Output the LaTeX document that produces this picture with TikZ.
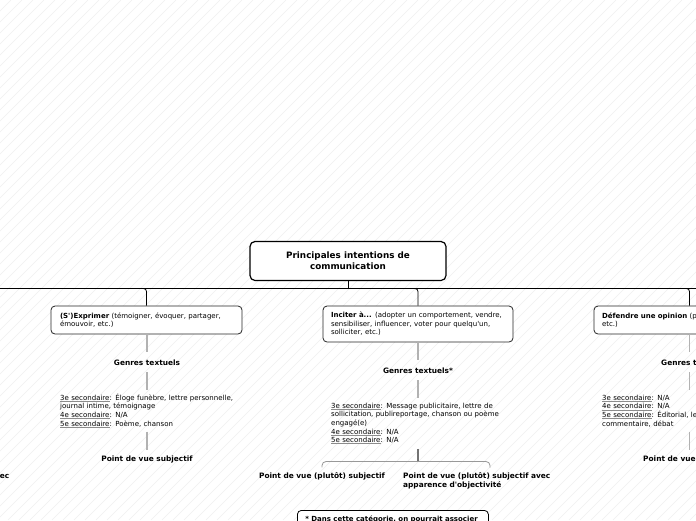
\documentclass[tikz,border=0pt]{standalone}
\usepackage{fontspec}
\setmainfont{DejaVu Sans}
\newcommand\sq{\textquotesingle}
\newcommand\bodyfont{\fontsize{7}{8.6}\selectfont\lineskiplimit=-6pt}
\newcommand\boldfont{\fontsize{7.4}{8.8}\selectfont\lineskiplimit=-6pt\bfseries}
\newcommand\ul[1]{\leavevmode\begingroup\setbox0\hbox{#1}\rlap{\color{black!45}\rule[-1.3pt]{\wd0}{0.6pt}}\box0\endgroup}
\begin{document}
\begin{tikzpicture}[x=1pt,y=-1pt,
  hatch/.style={draw=black!6, line width=0.6pt},
  conn/.style={draw=black, line width=0.8pt},
  gline/.style={draw=black!30, line width=1.6pt},
  dline/.style={draw=black!55, line width=1.6pt},
  bline/.style={draw=black!40, line width=0.8pt, rounded corners=4pt},
  rootbox/.style={draw=black, line width=1.2pt, rounded corners=5pt, fill=white,
    minimum width=196pt, minimum height=39pt, inner sep=0pt, align=center,
    font=\fontsize{8.8}{11}\selectfont\bfseries},
  ibox/.style={draw=black!85, line width=0.8pt, rounded corners=4pt, fill=white,
    inner xsep=8pt, inner ysep=0pt, align=left, font=\bodyfont},
  lbl/.style={font=\boldfont, text height=5.4pt, text depth=0pt,
    inner xsep=0pt, inner ysep=7pt, anchor=base},
  blk/.style={font=\bodyfont, inner sep=0pt, align=left, anchor=north west, text width=190pt},
]
\fill[white] (0,0) rectangle (696,520);
\useasboundingbox (0,0) rectangle (696,520);
\clip (0,0) rectangle (696,520);
\foreach \k in {-520,-509,...,700} \draw[hatch] (\k,520) -- (\k+520,0);

% root
\node[rootbox] (root) at (348,261) {Principales intentions de\\communication};
\coordinate (busL) at (0,288.5);
\coordinate (busR) at (696,288.5);
\draw[conn] (busL) -- (busR);
\draw[conn] (root.south) -- (root.south |- busL);

% children boxes
\node[ibox, inner xsep=9pt, minimum width=191pt, minimum height=28pt, text width=173pt] (lbox) at (146.5,320)
  {\textbf{(S\sq)Exprimer} (témoigner, évoquer, partager,\\émouvoir, etc.)};
\node[ibox, minimum width=190pt, minimum height=36pt, text width=174pt] (mbox) at (418,324)
  {\textbf{Inciter à...} (adopter un comportement, vendre,\\sensibiliser, influencer, voter pour quelqu\sq un,\\solliciter, etc.)};
\node[ibox, minimum width=191pt, minimum height=28pt, text width=175pt] (rbox) at (689.5,320)
  {\textbf{Défendre une opinion} (p\\etc.)};

\draw[conn, rounded corners=3pt] (lbox.north) -- (lbox.north |- busL) -- ++(-8,0);
\draw[conn, rounded corners=3pt] (mbox.north) -- (mbox.north |- busL) -- ++(-8,0);
\draw[conn, rounded corners=3pt] (rbox.north) -- (rbox.north |- busL) -- ++(-8,0);

% left column
\node[lbl] (lgen) at (147,365) {Genres textuels};
\node[blk] (lblk) at (60,390) {\rule{0pt}{10pt}\ul{3e secondaire}: Éloge funèbre, lettre personnelle,\\journal intime, témoignage\\\ul{4e secondaire}: N/A\\\ul{5e secondaire}: Poème, chanson\rule[-5.5pt]{0pt}{5.5pt}};
\node[lbl, inner ysep=5pt] (lpv) at (147,461) {Point de vue subjectif};
\draw[gline] (lgen |- lbox.south) -- (lgen.north);
\draw[gline] (lgen.south) -- (lgen.south |- lblk.north);
\draw[gline] (lpv |- lblk.south) -- (lpv.north);

% middle column
\node[lbl] (mgen) at (418,373) {Genres textuels*};
\node[blk] (mblk) at (331,398) {\rule{0pt}{10pt}\ul{3e secondaire}: Message publicitaire, lettre de\\sollicitation, publireportage, chanson ou poème\\engagé(e)\\\ul{4e secondaire}: N/A\\\ul{5e secondaire}: N/A\rule[-6pt]{0pt}{6pt}};
\draw[gline] (mgen |- mbox.south) -- (mgen.north);
\draw[gline] (mgen.south) -- (mgen.south |- mblk.north);
\coordinate (mbrace) at (418,461.5);
\coordinate (brR) at (490,467.5);
\draw[dline] (mgen |- mblk.south) -- (mbrace);
\node[lbl, inner ysep=5pt] (mpv1) at (322,478) {Point de vue (plutôt) subjectif};
\node[font=\boldfont, inner sep=0pt, align=left, anchor=north west, text width=160pt] (mpv2) at (403,470.5)
  {\rule{0pt}{7.5pt}Point de vue (plutôt) subjectif avec\\apparence d\sq objectivité};
\draw[bline] (mpv1.north) -- (mpv1.north |- mbrace) -- (brR |- mbrace) -- (brR);

% note box
\node[draw=black, line width=0.8pt, rounded corners=4pt, fill=white, anchor=north west,
  inner xsep=8pt, inner ysep=0pt, text width=175pt, align=left, font=\bodyfont\bfseries] (note) at (297,510)
  {\rule{0pt}{11pt}\mbox{* Dans cette catégorie, on pourrait associer}\rule[-20pt]{0pt}{20pt}};

% right column
\node[lbl, anchor=base west] (rgen) at (661,365) {Genres te};
\node[blk] (rblk) at (602,390) {\rule{0pt}{10pt}\ul{3e secondaire}: N/A\\\ul{4e secondaire}: N/A\\\ul{5e secondaire}: Éditorial, le\\commentaire, débat\rule[-5.5pt]{0pt}{5.5pt}};
\node[lbl, inner ysep=5pt, anchor=base west] (rpv) at (643,461) {Point de vue};
\draw[gline] (rbox.south) -- (rbox.south |- rgen.north);
\draw[gline] (rbox.south |- rgen.south) -- (rbox.south |- rblk.north);
\draw[gline] (rbox.south |- rblk.south) -- (rbox.south |- rpv.north);

% left off-screen fragment
\node[lbl, anchor=base west] (lfrag) at (-0.3,478) {ec};
\end{tikzpicture}
\end{document}
